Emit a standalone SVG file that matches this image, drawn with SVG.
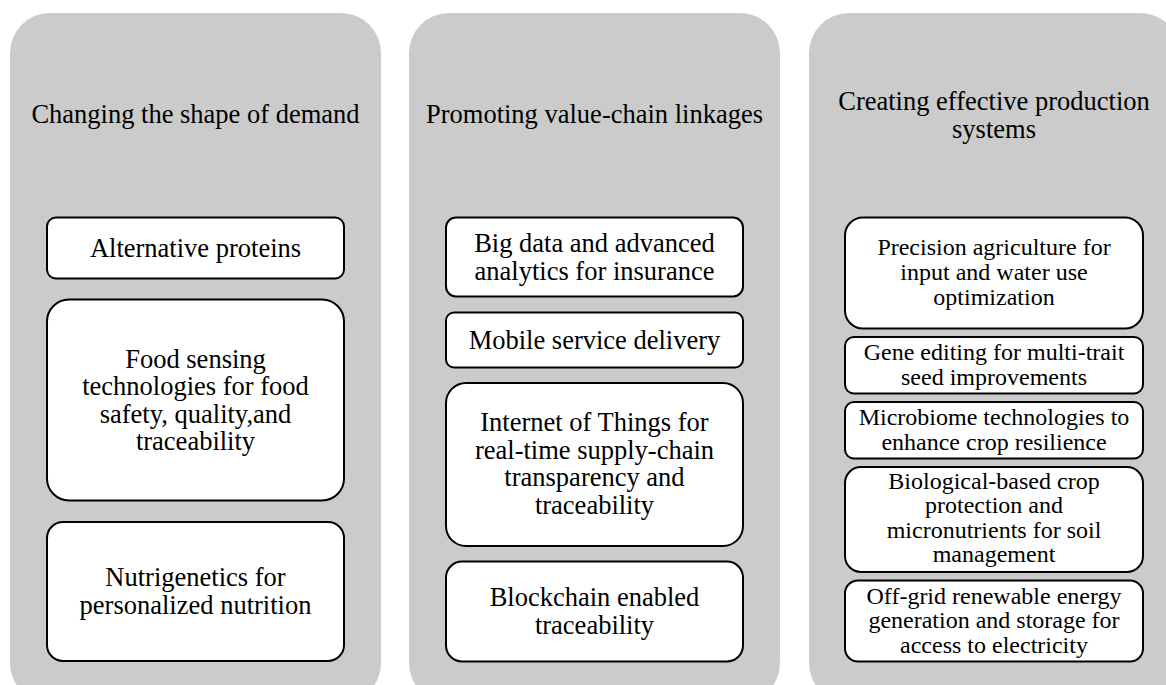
<svg xmlns="http://www.w3.org/2000/svg" width="1166" height="685" viewBox="0 0 1166 685">
<style>
.panel{fill:#cbcbcb;stroke:none}
.box{fill:#ffffff;stroke:#000000;stroke-width:2}
text{font-family:"Liberation Serif","Times New Roman",serif;font-size:26.5px;fill:#000000;text-anchor:middle}
text.s{font-size:24px}
</style>
<rect width="1166" height="685" fill="#ffffff"/>
<g id="panel-demand">
<rect class="panel" x="10" y="13" width="371" height="690" rx="40" ry="40"/>
<text x="195.5" y="123">Changing the shape of demand</text>
</g>
<g id="panel-value-chain">
<rect class="panel" x="409" y="13" width="371" height="690" rx="40" ry="40"/>
<text x="594.5" y="123">Promoting value-chain linkages</text>
</g>
<g id="panel-production">
<rect class="panel" x="809" y="13" width="371" height="690" rx="40" ry="40"/>
<text x="994" y="110">Creating effective production</text>
<text x="994" y="137.5">systems</text>
</g>
<g id="connectors"></g>
<g id="node-alt-proteins">
<rect class="box" x="47" y="217.5" width="297" height="61" rx="9"/>
<text x="195.5" y="256.5">Alternative proteins</text>
</g>
<g id="node-food-sensing">
<rect class="box" x="47" y="299.5" width="297" height="201" rx="22"/>
<text x="195.5" y="367.5">Food sensing</text>
<text x="195.5" y="395">technologies for food</text>
<text x="195.5" y="422.5">safety, quality,and</text>
<text x="195.5" y="450">traceability</text>
</g>
<g id="node-nutrigenetics">
<rect class="box" x="47" y="522" width="297" height="139" rx="16"/>
<text x="195.5" y="586">Nutrigenetics for</text>
<text x="195.5" y="613.5">personalized nutrition</text>
</g>
<g id="node-big-data">
<rect class="box" x="446" y="217.5" width="297" height="79" rx="10"/>
<text x="594.5" y="252">Big data and advanced</text>
<text x="594.5" y="279.5">analytics for insurance</text>
</g>
<g id="node-mobile">
<rect class="box" x="446" y="312.5" width="297" height="55" rx="8"/>
<text x="594.5" y="349">Mobile service delivery</text>
</g>
<g id="node-iot">
<rect class="box" x="446" y="383" width="297" height="163" rx="20"/>
<text x="594.5" y="431">Internet of Things for</text>
<text x="594.5" y="458.5">real-time supply-chain</text>
<text x="594.5" y="486">transparency and</text>
<text x="594.5" y="513.5">traceability</text>
</g>
<g id="node-blockchain">
<rect class="box" x="446" y="561.5" width="297" height="100" rx="16"/>
<text x="594.5" y="606">Blockchain enabled</text>
<text x="594.5" y="633.5">traceability</text>
</g>
<g id="node-precision">
<rect class="box" x="845" y="217.5" width="298" height="111" rx="18"/>
<text class="s" x="994" y="255">Precision agriculture for</text>
<text class="s" x="994" y="280">input and water use</text>
<text class="s" x="994" y="305">optimization</text>
</g>
<g id="node-gene-editing">
<rect class="box" x="845" y="337" width="298" height="56.5" rx="9"/>
<text class="s" x="994" y="360">Gene editing for multi-trait</text>
<text class="s" x="994" y="384.5">seed improvements</text>
</g>
<g id="node-microbiome">
<rect class="box" x="845" y="402" width="298" height="56.5" rx="9"/>
<text class="s" x="994" y="425">Microbiome technologies to</text>
<text class="s" x="994" y="449.5">enhance crop resilience</text>
</g>
<g id="node-biological">
<rect class="box" x="845" y="467" width="298" height="105" rx="16"/>
<text class="s" x="994" y="488.5">Biological-based crop</text>
<text class="s" x="994" y="513">protection and</text>
<text class="s" x="994" y="537.5">micronutrients for soil</text>
<text class="s" x="994" y="562">management</text>
</g>
<g id="node-offgrid">
<rect class="box" x="845" y="580.5" width="298" height="81" rx="13"/>
<text class="s" x="994" y="603.5">Off-grid renewable energy</text>
<text class="s" x="994" y="628">generation and storage for</text>
<text class="s" x="994" y="652.5">access to electricity</text>
</g>
</svg>
